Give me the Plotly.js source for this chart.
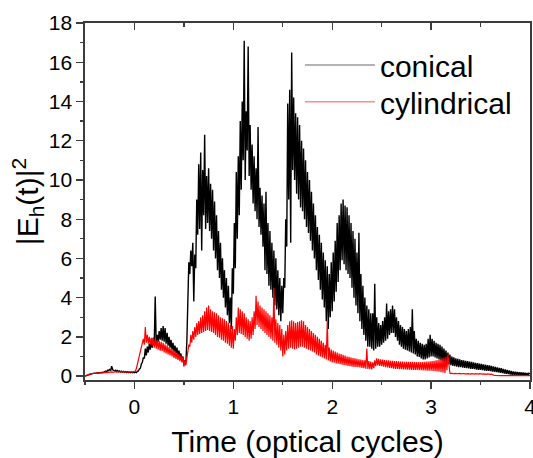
<!DOCTYPE html>
<html>
<head>
<meta charset="utf-8">
<script src="https://cdn.plot.ly/plotly-3.0.1.min.js"></script>
<style>html,body{margin:0;padding:0;background:#fff;}#chart{width:533px;height:458px;}</style>
</head>
<body>
<div id="chart"></div>
<script>
// Sampling grid (optical cycles)
var timeStart = -0.5;
var timeStep = 0.01;

// |E_h(t)|^2 for the conical geometry, one row per 0.1 cycle
var conical = [
  0.00,0.02,0.04,0.06,0.08,0.10,0.11,0.13,0.14,0.15, // -0.5
  0.14,0.16,0.15,0.17,0.16,0.18,0.17,0.19,0.18,0.20, // -0.4
  0.20,0.26,0.22,0.30,0.28,0.34,0.30,0.50,0.32,0.30, // -0.3
  0.26,0.30,0.24,0.28,0.22,0.26,0.21,0.25,0.20,0.24, // -0.2
  0.19,0.23,0.18,0.22,0.18,0.21,0.17,0.20,0.17,0.20, // -0.1
  0.17,0.20,0.18,0.24,0.26,0.36,0.40,0.62,0.70,0.95, // 0.0
  0.90,1.40,1.05,1.50,1.20,1.65,1.35,1.80,1.45,1.95, // 0.1
  1.55,4.05,1.70,2.10,1.75,2.30,1.85,2.45,1.80,2.55, // 0.2
  1.75,2.45,1.65,2.20,1.55,2.00,1.45,1.85,1.35,1.70, // 0.3
  1.25,1.55,1.15,1.45,1.05,1.30,0.95,1.15,0.80,1.00, // 0.4
  0.55,0.80,0.65,1.80,3.80,5.80,5.20,6.40,5.60,6.80, // 0.5
  3.80,6.20,5.50,9.00,7.20,10.8,7.50,11.4,6.40,10.5, // 0.6
  8.20,12.3,7.50,10.2,7.80,10.6,7.40,9.80,7.00,9.50, // 0.7
  6.40,8.90,6.00,8.20,5.40,7.40,5.00,6.80,4.40,6.00, // 0.8
  4.00,5.40,3.50,5.00,3.10,4.60,2.70,4.00,2.40,5.50, // 0.9
  4.20,7.80,5.50,10.4,7.00,11.2,8.20,13.0,9.50,14.0, // 1.0
  11.0,17.1,10.0,13.5,11.5,16.8,10.2,12.8,9.50,11.8, // 1.1
  8.80,11.2,8.40,10.6,8.00,12.7,7.60,9.60,7.20,9.20, // 1.2
  6.60,8.80,5.40,9.40,5.20,7.80,4.60,7.40,4.40,6.80, // 1.3
  4.00,6.40,3.60,6.00,3.40,5.40,3.10,5.00,2.80,4.60, // 1.4
  3.20,5.00,4.50,8.00,6.60,13.9,9.00,14.6,6.80,16.5, // 1.5
  10.5,14.2,10.0,13.4,9.30,13.2,9.00,12.8,8.60,12.0, // 1.6
  8.40,11.6,8.00,11.0,7.60,10.4,7.30,10.0,6.90,9.40, // 1.7
  6.40,8.80,6.00,8.20,5.40,7.60,4.90,7.20,4.40,6.80, // 1.8
  3.90,6.30,3.50,5.90,2.80,5.60,2.40,5.20,3.00,5.80, // 1.9
  3.30,6.30,3.80,6.90,4.30,7.80,4.80,8.20,5.40,8.80, // 2.0
  5.90,9.00,5.70,8.70,5.40,8.60,5.20,8.20,5.00,7.80, // 2.1
  4.50,7.40,4.00,7.00,3.60,6.30,3.20,7.30,2.80,5.20, // 2.2
  2.40,4.60,2.10,4.00,1.80,3.60,1.50,3.40,1.50,3.20, // 2.3
  1.40,3.20,1.30,4.70,1.40,3.00,1.50,2.70,1.50,2.60, // 2.4
  1.60,2.80,1.70,3.00,1.80,3.70,1.90,3.30,2.10,3.40, // 2.5
  2.20,3.60,2.20,3.40,2.00,3.00,1.80,2.80,1.60,2.60, // 2.6
  1.50,2.50,1.40,2.40,1.35,2.30,1.30,2.40,1.25,2.50, // 2.7
  1.20,3.40,1.15,2.30,1.10,1.90,1.00,1.80,0.97,1.70, // 2.8
  0.90,1.65,0.85,1.60,0.85,1.65,0.90,1.90,0.95,2.10, // 2.9
  1.00,1.90,1.00,1.80,0.95,1.70,0.90,1.65,0.85,1.60, // 3.0
  0.80,1.50,0.75,1.40,0.70,1.30,0.65,1.20,0.60,1.10, // 3.1
  0.55,1.00,0.52,0.95,0.50,0.90,0.48,0.88,0.46,0.85, // 3.2
  0.45,0.82,0.43,0.80,0.42,0.78,0.40,0.76,0.39,0.74, // 3.3
  0.37,0.72,0.36,0.70,0.35,0.68,0.33,0.66,0.32,0.64, // 3.4
  0.31,0.62,0.30,0.60,0.28,0.58,0.27,0.56,0.26,0.54, // 3.5
  0.25,0.52,0.23,0.50,0.22,0.47,0.20,0.44,0.19,0.42, // 3.6
  0.17,0.40,0.15,0.37,0.13,0.34,0.11,0.31,0.10,0.29, // 3.7
  0.08,0.26,0.07,0.24,0.06,0.22,0.06,0.21,0.05,0.20, // 3.8
  0.05,0.19,0.04,0.18,0.04,0.17,0.04,0.16,0.04,0.15, // 3.9
  0.10                                                // 4.0
];

// |E_h(t)|^2 for the cylindrical geometry
var cylindrical = [
  0.00,0.03,0.05,0.07,0.09,0.11,0.12,0.13,0.14,0.15, // -0.5
  0.14,0.16,0.15,0.16,0.15,0.17,0.16,0.17,0.16,0.18, // -0.4
  0.17,0.19,0.18,0.19,0.18,0.20,0.19,0.21,0.19,0.21, // -0.3
  0.20,0.22,0.20,0.22,0.20,0.22,0.21,0.22,0.20,0.22, // -0.2
  0.20,0.22,0.20,0.22,0.20,0.22,0.21,0.22,0.21,0.23, // -0.1
  0.22,0.26,0.40,0.60,0.80,1.10,1.30,1.55,1.70,1.90, // 0.0
  1.60,2.50,1.70,2.10,1.65,2.00,1.60,1.95,1.55,1.95, // 0.1
  1.45,1.90,1.40,1.85,1.35,1.80,1.30,1.75,1.28,1.70, // 0.2
  1.20,1.62,1.15,1.55,1.10,1.48,1.05,1.42,1.00,1.35, // 0.3
  0.92,1.28,0.88,1.20,0.82,1.12,0.76,1.05,0.70,0.98, // 0.4
  0.48,0.80,0.55,0.95,1.05,1.60,1.50,2.10,1.70,2.30, // 0.5
  1.85,2.50,2.00,2.70,2.10,2.80,2.15,3.00,2.20,3.10, // 0.6
  2.25,3.30,2.30,3.50,2.35,3.60,2.30,3.40,2.25,3.30, // 0.7
  2.20,3.25,2.10,3.20,2.00,3.10,1.95,3.00,1.85,2.95, // 0.8
  1.80,2.90,1.70,2.80,1.65,2.70,1.55,2.60,1.45,2.55, // 0.9
  1.40,2.40,1.80,3.00,2.10,3.50,2.20,3.40,2.15,3.30, // 1.0
  2.10,3.20,2.00,3.00,1.90,2.90,1.80,2.80,1.90,3.00, // 1.1
  2.10,3.30,2.40,4.10,2.60,3.80,2.50,3.60,2.40,3.50, // 1.2
  2.30,3.40,2.20,3.30,2.10,3.20,2.00,3.10,1.90,3.00, // 1.3
  1.80,4.50,1.70,2.90,1.60,2.70,1.45,2.60,1.30,2.40, // 1.4
  1.00,2.10,1.10,2.30,1.30,2.60,1.40,2.80,1.45,2.85, // 1.5
  1.40,2.80,1.35,2.70,1.40,2.75,1.45,2.80,1.50,2.85, // 1.6
  1.50,2.80,1.45,2.60,1.40,2.50,1.35,2.40,1.30,2.30, // 1.7
  1.25,2.20,1.20,2.10,1.10,2.00,1.05,1.90,1.00,1.80, // 1.8
  0.95,1.70,0.90,1.60,0.85,2.80,0.80,1.45,0.75,1.35, // 1.9
  0.70,1.30,0.68,1.25,0.65,1.20,0.63,1.15,0.60,1.12, // 2.0
  0.58,1.08,0.56,1.05,0.54,1.00,0.52,0.98,0.50,0.95, // 2.1
  0.48,0.92,0.47,0.90,0.46,0.88,0.45,0.86,0.44,0.84, // 2.2
  0.42,0.82,0.40,0.80,0.38,1.40,0.36,0.76,0.35,0.74, // 2.3
  0.34,0.70,0.40,0.80,0.50,0.90,0.55,0.88,0.52,0.85, // 2.4
  0.50,0.84,0.48,0.82,0.46,0.80,0.44,0.80,0.42,0.78, // 2.5
  0.40,0.78,0.38,0.76,0.37,0.76,0.36,0.75,0.35,0.74, // 2.6
  0.35,0.74,0.34,0.73,0.34,0.72,0.33,0.72,0.33,0.72, // 2.7
  0.32,0.72,0.32,0.71,0.31,0.72,0.31,0.71,0.30,0.72, // 2.8
  0.30,0.72,0.29,0.73,0.29,0.74,0.28,0.74,0.28,0.75, // 2.9
  0.27,0.76,0.26,0.78,0.25,0.80,0.24,0.82,0.22,0.85, // 3.0
  0.20,0.90,0.18,0.95,0.16,0.98,0.30,1.10,0.60,0.15, // 3.1
  0.13,0.15,0.12,0.14,0.12,0.14,0.12,0.13,0.12,0.14, // 3.2
  0.11,0.13,0.11,0.13,0.11,0.13,0.11,0.12,0.11,0.12, // 3.3
  0.10,0.12,0.10,0.12,0.10,0.12,0.10,0.12,0.10,0.12, // 3.4
  0.10,0.11,0.10,0.11,0.10,0.11,0.09,0.11,0.09,0.11, // 3.5
  0.09,0.10,0.07,0.05,0.03,0.03,0.02,0.03,0.02,0.03, // 3.6
  0.02,0.03,0.02,0.03,0.02,0.03,0.02,0.03,0.02,0.03, // 3.7
  0.02,0.03,0.02,0.03,0.02,0.03,0.02,0.03,0.02,0.03, // 3.8
  0.02,0.03,0.02,0.03,0.02,0.03,0.02,0.03,0.02,0.03, // 3.9
  0.02                                                // 4.0
];

var seriesNames = ['conical', 'cylindrical'];
var xTickVals = [0, 1, 2, 3, 4];
var yTickVals = [0, 2, 4, 6, 8, 10, 12, 14, 16, 18];

function timesFor(arr) {
  var t = [];
  for (var i = 0; i < arr.length; i++) t.push(+(timeStart + i * timeStep).toFixed(4));
  return t;
}

var FONT = 'Arial, "Liberation Sans", sans-serif';
var AXC = '#3c3c3c';

var traces = [
  {x: timesFor(conical), y: conical, type: 'scatter', mode: 'lines',
   line: {color: '#000000', width: 1.4}, name: seriesNames[0], showlegend: false, hoverinfo: 'skip'},
  {x: timesFor(cylindrical), y: cylindrical, type: 'scatter', mode: 'lines',
   line: {color: '#ff0000', width: 1.2}, name: seriesNames[1], showlegend: false, hoverinfo: 'skip'},
  // legend keys (thin lines render lighter in the reference key)
  {x: [null], y: [null], type: 'scatter', mode: 'lines', line: {color: '#9a9a9a', width: 1.5}, name: seriesNames[0], legend: 'legend'},
  {x: [null], y: [null], type: 'scatter', mode: 'lines', line: {color: '#ff8a8a', width: 1.5}, name: seriesNames[1], legend: 'legend2'},
  // carrier for the top frame axis
  {x: [null], y: [null], xaxis: 'x2', type: 'scatter', mode: 'lines', showlegend: false, hoverinfo: 'skip'}
];

var legendCommon = {xanchor: 'left', yanchor: 'top', bgcolor: 'rgba(0,0,0,0)',
                    font: {family: FONT, size: 30, color: '#000'}, itemwidth: 70};

var layout = {
  width: 533, height: 458,
  margin: {l: 85, r: 3, t: 23, b: 78},
  paper_bgcolor: '#ffffff', plot_bgcolor: '#ffffff',
  font: {family: FONT, color: '#000', size: 21},
  showlegend: true,
  legend: Object.assign({x: 0.483, y: 0.955}, legendCommon),
  legend2: Object.assign({x: 0.483, y: 0.852}, legendCommon),
  xaxis: {
    range: [-0.5, 4], tickvals: xTickVals, ticks: 'outside', ticklen: 7, tickwidth: 1.3, tickcolor: AXC,
    minor: {dtick: 0.5, tick0: 0, ticks: 'outside', ticklen: 3.5, tickwidth: 1.3, tickcolor: AXC, showgrid: false},
    showline: true, linecolor: AXC, linewidth: 1.6, mirror: true, showgrid: false, zeroline: false,
    ticklabeloverflow: 'allow',
    tickfont: {size: 21, family: FONT},
    title: {text: 'Time (optical cycles)', font: {size: 30, family: FONT}, standoff: 22}
  },
  xaxis2: {
    overlaying: 'x', side: 'top', range: [-0.5, 4], tickvals: xTickVals, ticks: 'inside', ticklen: 7, tickwidth: 1.3, tickcolor: AXC,
    minor: {dtick: 0.5, tick0: 0, ticks: 'inside', ticklen: 3.5, tickwidth: 1.3, tickcolor: AXC, showgrid: false},
    showticklabels: false, showline: true, linecolor: AXC, linewidth: 1.6, showgrid: false, zeroline: false
  },
  yaxis: {
    range: [-0.2, 18], tickvals: yTickVals, ticks: 'outside', ticklen: 7, tickwidth: 1.3, tickcolor: AXC,
    minor: {dtick: 1, tick0: 0, ticks: 'outside', ticklen: 3.5, tickwidth: 1.3, tickcolor: AXC, showgrid: false},
    showline: true, linecolor: AXC, linewidth: 1.6, mirror: true, showgrid: false, zeroline: false,
    tickfont: {size: 21, family: FONT},
    title: {text: '|E<sub>h</sub>(t)|<sup>2</sup>', font: {size: 30, family: FONT}, standoff: 1}
  }
};

Plotly.newPlot('chart', traces, layout, {staticPlot: true, displayModeBar: false});
</script>
</body>
</html>
